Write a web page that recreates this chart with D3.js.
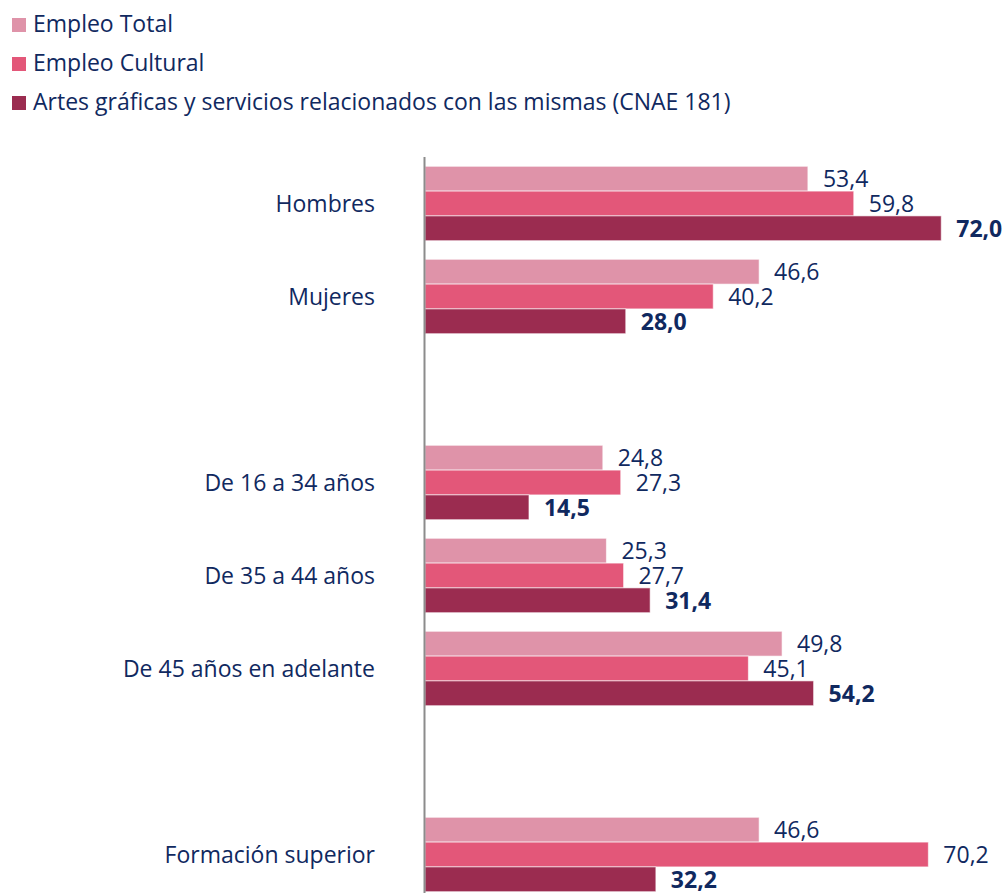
<!DOCTYPE html>
<html lang="es">
<head>
<meta charset="UTF-8" />
<title>Empleo por sexo, edad y formación</title>
<script src="https://d3js.org/d3.v7.min.js"></script>
<style>
  body { margin: 0; background: #fff; font-family: "Open Sans", "Noto Sans", sans-serif; }
  svg { display: block; }
</style>
</head>
<body>
<svg id="chart" width="1007" height="893"></svg>
<script>
// slots in the band scale; "gap*" entries are empty rows between blocks
const slots = ["Hombres", "Mujeres", "gap1", "De 16 a 34 años", "De 35 a 44 años", "De 45 años en adelante", "gap2", "Formación superior"];
const categories = ["Hombres", "Mujeres", "De 16 a 34 años", "De 35 a 44 años", "De 45 años en adelante", "Formación superior"];
const seriesNames = ["Empleo Total", "Empleo Cultural", "Artes gráficas y servicios relacionados con las mismas (CNAE 181)"];
const empleoTotal    = [53.4, 46.6, 24.8, 25.3, 49.8, 46.6];
const empleoCultural = [59.8, 40.2, 27.3, 27.7, 45.1, 70.2];
const artesGraficas  = [72.0, 28.0, 14.5, 31.4, 54.2, 32.2];
const seriesValues = [empleoTotal, empleoCultural, artesGraficas];
const colors = ["#df93a9", "#e35779", "#9b2c50"];
const textColor = "#10295f";

const svg = d3.select("#chart");
const fmt = v => d3.format(".1f")(v).replace(".", ",");

// legend
const legend = svg.append("g");
seriesNames.forEach((name, i) => {
  const row = legend.append("g").attr("transform", `translate(0,${i * 39})`);
  row.append("rect").attr("x", 12).attr("y", 18).attr("width", 14).attr("height", 14).attr("fill", colors[i]);
  row.append("text").attr("x", 33).attr("y", 32)
    .attr("font-size", 23).attr("fill", textColor).text(name);
});

const x = d3.scaleLinear().domain([0, 100]).range([425, 1142]);
const y0 = d3.scaleBand().domain(slots).range([157, 157 + slots.length * 93])
  .paddingInner(0.2).paddingOuter(0.1);
const y1 = d3.scaleBand().domain(d3.range(seriesNames.length)).range([0, y0.bandwidth()]);

const rows = categories.map((c, i) => ({ cat: c, vals: seriesValues.map(s => s[i]) }));

const groups = svg.append("g").selectAll("g.cat")
  .data(rows).join("g")
  .attr("class", "cat")
  .attr("transform", d => `translate(0,${y0(d.cat)})`);

groups.selectAll("rect")
  .data(d => d.vals.map((v, k) => ({ v, k })))
  .join("rect")
  .attr("x", x(0))
  .attr("y", d => y1(d.k))
  .attr("width", d => x(d.v) - x(0))
  .attr("height", y1.bandwidth())
  .attr("fill", d => colors[d.k])
  .attr("stroke", "#fff")
  .attr("stroke-opacity", 0.6)
  .attr("stroke-width", 1);

groups.selectAll("text.val")
  .data(d => d.vals.map((v, k) => ({ v, k })))
  .join("text")
  .attr("class", "val")
  .attr("x", d => x(d.v) + 15)
  .attr("y", d => y1(d.k) + y1.bandwidth() / 2)
  .attr("dy", "0.36em")
  .attr("font-size", 23)
  .attr("font-weight", d => d.k === 2 ? "bold" : "normal")
  .attr("fill", textColor)
  .text(d => fmt(d.v));

// category labels
svg.append("g").selectAll("text")
  .data(categories).join("text")
  .attr("x", 375)
  .attr("y", d => y0(d) + y0.bandwidth() / 2)
  .attr("dy", "0.36em")
  .attr("text-anchor", "end")
  .attr("font-size", 23)
  .attr("fill", textColor)
  .text(d => d);

// vertical axis line
svg.append("line")
  .attr("x1", 424.5).attr("x2", 424.5)
  .attr("y1", 157).attr("y2", 893)
  .attr("stroke", "#8c8c8c").attr("stroke-width", 2);
</script>
</body>
</html>
